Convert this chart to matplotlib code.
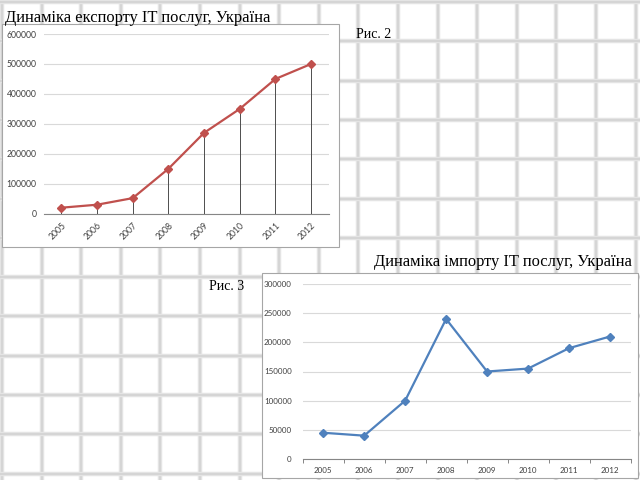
import matplotlib
matplotlib.use("Agg")
import matplotlib.pyplot as plt
from matplotlib.patches import Rectangle

# Data
years = ['2005', '2006', '2007', '2008', '2009', '2010', '2011', '2012']
export_values = [20000, 30000, 52000, 150000, 270000, 350000, 450000, 500000]
import_values = [45000, 40000, 100000, 240000, 150000, 155000, 190000, 210000]

export_title = 'Динаміка експорту IT послуг, Україна'
import_title = 'Динаміка імпорту IT послуг, Україна'

W, H = 640, 480
fig = plt.figure(figsize=(6.4, 4.8), dpi=100)

# Background: squared paper in pixel coordinates
bg = fig.add_axes([0, 0, 1, 1])
bg.set_xlim(0, W)
bg.set_ylim(H, 0)
bg.axis('off')
x = 2.0
while x < W:
    bg.axvline(x, color='#e4e4e4', lw=3.2, zorder=0)
    bg.axvline(x, color='#d2d2d2', lw=1.2, zorder=0)
    x += 39.6
y = 2.0
while y < H:
    bg.axhline(y, color='#e4e4e4', lw=3.2, zorder=0)
    bg.axhline(y, color='#d2d2d2', lw=1.2, zorder=0)
    y += 39.3

# chart frames
bg.add_patch(Rectangle((2, 24), 337, 223, facecolor='white', edgecolor='#a6a6a6', lw=0.8, zorder=1))
bg.add_patch(Rectangle((262, 273), 376, 205, facecolor='white', edgecolor='#a6a6a6', lw=0.8, zorder=1))

serif = 'Liberation Serif'
bg.text(5, 18, export_title, family=serif, fontsize=11.9, va='center', ha='left', zorder=3)
bg.text(356, 35, 'Рис. 2', family=serif, fontsize=10, va='center', ha='left', zorder=3)
bg.text(632, 262, import_title, family=serif, fontsize=11.9, va='center', ha='right', zorder=3)
bg.text(209, 287, 'Рис. 3', family=serif, fontsize=10, va='center', ha='left', zorder=3)


def make_axes(left, right, top, bottom):
    return fig.add_axes([left / W, 1 - bottom / H, (right - left) / W, (bottom - top) / H])


def style(ax, ymax, step, fs, ypad):
    ax.patch.set_alpha(0)
    ax.set_xlim(-0.5, len(years) - 0.5)
    ax.set_ylim(0, ymax)
    ax.set_yticks(range(0, ymax + 1, step))
    ax.grid(axis='y', color='#d9d9d9', lw=0.8)
    ax.set_axisbelow(True)
    for s in ['top', 'right', 'left']:
        ax.spines[s].set_visible(False)
    ax.spines['bottom'].set_color('#868686')
    ax.spines['bottom'].set_linewidth(0.8)
    ax.tick_params(axis='y', length=0, labelsize=fs, labelcolor='#404040', pad=ypad)
    ax.tick_params(axis='x', labelsize=fs, labelcolor='#404040')
    for lab in ax.get_xticklabels() + ax.get_yticklabels():
        lab.set_family('Lato')


# Export chart (Рис. 2)
ax1 = make_axes(43.5, 329, 34, 213.7)
ax1.plot(range(len(years)), export_values, color='#c0504d', lw=1.6, marker='D', markersize=4.5, zorder=4)
ax1.vlines(range(len(years)), 0, export_values, color='#4d4d4d', lw=0.7, zorder=3)
ax1.set_xticks(range(len(years)))
ax1.set_xticklabels(years, rotation=45, ha='right', rotation_mode='anchor')
style(ax1, 600000, 100000, 6.2, 5)
ax1.tick_params(axis='x', length=0, pad=5)

# Import chart (Рис. 3)
ax2 = make_axes(302.7, 630.5, 284, 459)
ax2.plot(range(len(years)), import_values, color='#4f81bd', lw=1.6, marker='D', markersize=4.5, zorder=4)
ax2.set_xticks(range(len(years)))
ax2.set_xticklabels(years)
ax2.set_xticks([i - 0.5 for i in range(len(years) + 1)], minor=True)
style(ax2, 300000, 50000, 5.8, 8)
ax2.tick_params(axis='x', which='major', length=0, pad=6)
ax2.tick_params(axis='x', which='minor', length=3, color='#868686', width=0.7)

fig.savefig('out.png', dpi=100)
